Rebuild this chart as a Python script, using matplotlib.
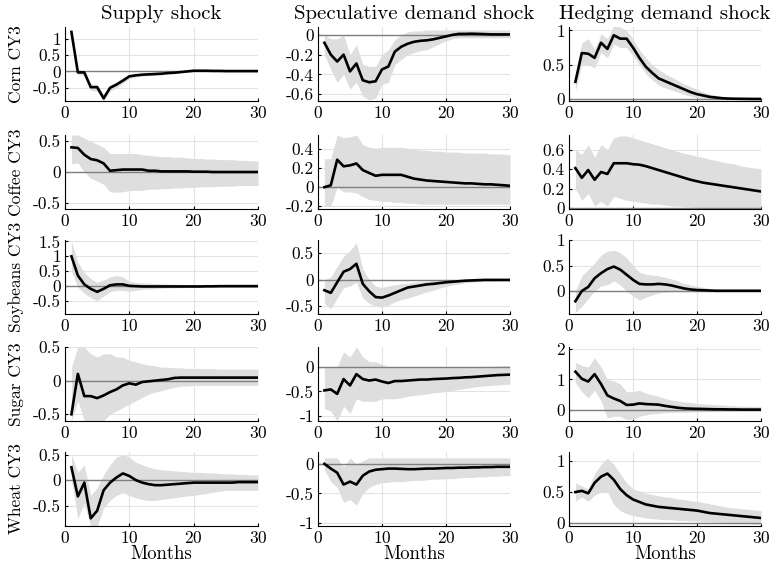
import matplotlib
matplotlib.use("Agg")
import matplotlib.pyplot as plt
from matplotlib.ticker import FuncFormatter

plt.rcParams['font.family'] = ['cmr10', 'DejaVu Serif']
plt.rcParams['axes.unicode_minus'] = False
plt.rcParams['axes.formatter.use_mathtext'] = True

months = list(range(1, 31))
shocks = ["Supply shock", "Speculative demand shock", "Hedging demand shock"]
commodities = ["Corn CY3", "Coffee CY3", "Soybeans CY3", "Sugar CY3", "Wheat CY3"]
xticks = [0, 10, 20, 30]

# ---- Corn ----
corn_sup = [1.2, -0.03, -0.03, -0.48, -0.48, -0.82, -0.5, -0.4, -0.28, -0.15, -0.12, -0.1, -0.09, -0.08, -0.07, -0.05, -0.04, -0.02, 0.0, 0.02, 0.02, 0.02, 0.015, 0.015, 0.01, 0.01, 0.01, 0.01, 0.01, 0.01]
corn_sup_hi = [1.25, 0.05, 0.03, -0.38, -0.38, -0.7, -0.42, -0.32, -0.2, -0.1, -0.08, -0.06, -0.05, -0.04, -0.03, -0.02, -0.01, 0.0, 0.02, 0.03, 0.03, 0.03, 0.02, 0.02, 0.02, 0.015, 0.015, 0.015, 0.015, 0.015]
corn_sup_lo = [1.15, -0.1, -0.12, -0.58, -0.6, -0.9, -0.6, -0.5, -0.36, -0.22, -0.17, -0.14, -0.13, -0.12, -0.1, -0.08, -0.06, -0.04, -0.02, 0.0, 0.01, 0.01, 0.01, 0.005, 0.005, 0.005, 0.005, 0.005, 0.005, 0.005]

corn_spe = [-0.08, -0.2, -0.27, -0.2, -0.37, -0.29, -0.46, -0.48, -0.47, -0.35, -0.32, -0.17, -0.12, -0.09, -0.07, -0.06, -0.055, -0.045, -0.03, -0.015, 0.0, 0.01, 0.01, 0.012, 0.01, 0.008, 0.005, 0.005, 0.005, 0.005]
corn_spe_hi = [0.0, -0.04, -0.04, 0.0, -0.2, -0.1, -0.3, -0.32, -0.32, -0.2, -0.15, -0.05, 0.0, 0.03, 0.04, 0.04, 0.05, 0.05, 0.05, 0.05, 0.05, 0.05, 0.05, 0.05, 0.05, 0.05, 0.05, 0.05, 0.05, 0.05]
corn_spe_lo = [-0.2, -0.35, -0.48, -0.4, -0.55, -0.48, -0.62, -0.66, -0.64, -0.5, -0.48, -0.3, -0.25, -0.2, -0.18, -0.16, -0.15, -0.12, -0.09, -0.06, -0.04, -0.03, -0.03, -0.03, -0.03, -0.03, -0.03, -0.03, -0.03, -0.03]

corn_hed = [0.25, 0.67, 0.66, 0.6, 0.82, 0.73, 0.93, 0.88, 0.88, 0.75, 0.6, 0.47, 0.38, 0.3, 0.26, 0.22, 0.18, 0.14, 0.1, 0.07, 0.05, 0.03, 0.02, 0.01, 0.005, 0.003, 0.002, 0.001, 0.0, 0.0]
corn_hed_hi = [0.35, 0.82, 0.88, 0.72, 0.95, 0.88, 1.07, 1.05, 1.0, 0.87, 0.72, 0.6, 0.5, 0.43, 0.37, 0.32, 0.27, 0.22, 0.18, 0.14, 0.1, 0.07, 0.05, 0.03, 0.02, 0.015, 0.01, 0.008, 0.005, 0.005]
corn_hed_lo = [0.12, 0.5, 0.5, 0.45, 0.68, 0.6, 0.8, 0.75, 0.75, 0.63, 0.5, 0.37, 0.28, 0.2, 0.16, 0.13, 0.1, 0.07, 0.04, 0.02, 0.01, 0.0, -0.005, -0.005, -0.005, -0.005, -0.005, -0.005, -0.005, -0.005]

# ---- Coffee ----
coff_sup = [0.4, 0.39, 0.28, 0.21, 0.19, 0.14, 0.02, 0.03, 0.04, 0.04, 0.04, 0.04, 0.02, 0.02, 0.01, 0.01, 0.01, 0.01, 0.01, 0.005, 0.005, 0.005, 0.0, 0.0, 0.0, 0.0, 0.0, 0.0, 0.0, 0.0]
coff_sup_hi = [0.6, 0.6, 0.55, 0.5, 0.45, 0.4, 0.3, 0.3, 0.3, 0.3, 0.3, 0.28, 0.27, 0.26, 0.25, 0.25, 0.24, 0.24, 0.23, 0.22, 0.22, 0.21, 0.21, 0.2, 0.2, 0.2, 0.19, 0.19, 0.18, 0.18]
coff_sup_lo = [0.13, 0.15, 0.0, -0.1, -0.15, -0.2, -0.32, -0.33, -0.32, -0.3, -0.3, -0.3, -0.28, -0.28, -0.27, -0.27, -0.26, -0.26, -0.25, -0.25, -0.24, -0.24, -0.24, -0.23, -0.23, -0.23, -0.22, -0.22, -0.22, -0.22]

coff_spe = [0.0, 0.02, 0.29, 0.22, 0.23, 0.25, 0.18, 0.15, 0.12, 0.13, 0.13, 0.13, 0.13, 0.11, 0.09, 0.08, 0.07, 0.065, 0.06, 0.055, 0.05, 0.045, 0.04, 0.04, 0.035, 0.03, 0.03, 0.025, 0.02, 0.015]
coff_spe_hi = [0.3, 0.3, 0.55, 0.52, 0.53, 0.55, 0.45, 0.42, 0.41, 0.42, 0.42, 0.42, 0.42, 0.41, 0.4, 0.39, 0.39, 0.38, 0.38, 0.37, 0.37, 0.37, 0.36, 0.36, 0.36, 0.36, 0.35, 0.35, 0.35, 0.34]
coff_spe_lo = [-0.2, -0.2, 0.0, -0.05, -0.05, -0.06, -0.1, -0.13, -0.14, -0.15, -0.15, -0.16, -0.16, -0.17, -0.17, -0.18, -0.18, -0.18, -0.18, -0.18, -0.18, -0.18, -0.18, -0.18, -0.18, -0.18, -0.18, -0.18, -0.18, -0.18]

coff_hed = [0.41, 0.31, 0.39, 0.29, 0.37, 0.35, 0.46, 0.46, 0.46, 0.45, 0.445, 0.43, 0.41, 0.39, 0.37, 0.35, 0.33, 0.31, 0.29, 0.275, 0.26, 0.25, 0.24, 0.23, 0.22, 0.21, 0.2, 0.19, 0.18, 0.17]
coff_hed_hi = [0.6, 0.55, 0.65, 0.52, 0.65, 0.6, 0.72, 0.74, 0.74, 0.72, 0.7, 0.68, 0.66, 0.64, 0.62, 0.6, 0.58, 0.56, 0.55, 0.53, 0.52, 0.5, 0.49, 0.47, 0.46, 0.45, 0.43, 0.42, 0.41, 0.4]
coff_hed_lo = [0.2, 0.08, 0.15, 0.02, 0.07, 0.02, 0.12, 0.1, 0.08, 0.07, 0.06, 0.05, 0.04, 0.04, 0.03, 0.02, 0.02, 0.01, 0.01, 0.0, 0.0, 0.0, 0.0, 0.0, 0.0, 0.0, 0.0, 0.0, 0.0, 0.0]

# ---- Soybeans ----
soy_sup = [1.0, 0.35, 0.05, -0.1, -0.2, -0.1, 0.02, 0.05, 0.05, 0.0, -0.01, -0.02, -0.02, -0.02, -0.02, -0.02, -0.02, -0.02, -0.02, -0.02, -0.02, -0.015, -0.015, -0.01, -0.01, -0.01, -0.01, -0.01, -0.01, -0.01]
soy_sup_hi = [1.5, 0.8, 0.45, 0.25, 0.12, 0.2, 0.3, 0.35, 0.3, 0.15, 0.12, 0.1, 0.09, 0.08, 0.07, 0.06, 0.06, 0.05, 0.05, 0.04, 0.04, 0.03, 0.03, 0.03, 0.02, 0.02, 0.02, 0.01, 0.01, 0.01]
soy_sup_lo = [0.5, -0.05, -0.25, -0.4, -0.5, -0.35, -0.2, -0.15, -0.15, -0.18, -0.15, -0.12, -0.11, -0.1, -0.08, -0.07, -0.07, -0.06, -0.06, -0.05, -0.05, -0.04, -0.04, -0.04, -0.03, -0.03, -0.03, -0.02, -0.02, -0.02]

soy_spe = [-0.2, -0.25, -0.05, 0.15, 0.2, 0.3, -0.08, -0.22, -0.33, -0.34, -0.3, -0.25, -0.2, -0.15, -0.13, -0.11, -0.09, -0.08, -0.065, -0.05, -0.04, -0.03, -0.02, -0.015, -0.01, -0.005, -0.005, -0.005, -0.005, -0.005]
soy_spe_hi = [0.0, 0.05, 0.25, 0.45, 0.55, 0.7, 0.2, 0.0, -0.12, -0.15, -0.12, -0.1, -0.08, -0.07, -0.05, -0.04, -0.03, -0.02, -0.015, -0.01, -0.005, 0.0, 0.0, 0.0, 0.005, 0.005, 0.01, 0.01, 0.01, 0.01]
soy_spe_lo = [-0.45, -0.55, -0.35, -0.15, -0.12, -0.05, -0.35, -0.45, -0.5, -0.52, -0.48, -0.42, -0.38, -0.35, -0.31, -0.27, -0.23, -0.2, -0.16, -0.13, -0.1, -0.08, -0.06, -0.05, -0.04, -0.03, -0.03, -0.02, -0.02, -0.02]

soy_hed = [-0.2, 0.0, 0.08, 0.25, 0.35, 0.43, 0.48, 0.42, 0.32, 0.22, 0.14, 0.13, 0.13, 0.14, 0.13, 0.11, 0.08, 0.05, 0.03, 0.02, 0.015, 0.01, 0.005, 0.005, 0.005, 0.005, 0.005, 0.005, 0.005, 0.005]
soy_hed_hi = [0.0, 0.3, 0.42, 0.55, 0.7, 0.78, 0.8, 0.75, 0.65, 0.5, 0.37, 0.33, 0.31, 0.3, 0.27, 0.24, 0.2, 0.15, 0.12, 0.09, 0.07, 0.05, 0.04, 0.03, 0.02, 0.02, 0.015, 0.01, 0.01, 0.01]
soy_hed_lo = [-0.42, -0.3, -0.15, 0.0, 0.1, 0.12, 0.2, 0.12, 0.0, -0.1, -0.18, -0.12, -0.08, -0.04, -0.02, -0.01, -0.01, -0.01, -0.01, -0.01, -0.01, -0.01, -0.005, -0.005, -0.005, 0.0, 0.0, 0.0, 0.0, 0.0]

# ---- Sugar ----
sug_sup = [-0.5, 0.1, -0.23, -0.23, -0.26, -0.22, -0.17, -0.13, -0.07, -0.04, -0.06, -0.02, -0.01, 0.0, 0.01, 0.02, 0.04, 0.045, 0.045, 0.045, 0.045, 0.045, 0.045, 0.045, 0.045, 0.045, 0.045, 0.045, 0.045, 0.045]
sug_sup_hi = [0.2, 0.5, 0.5, 0.4, 0.35, 0.4, 0.4, 0.35, 0.35, 0.3, 0.28, 0.25, 0.23, 0.22, 0.2, 0.2, 0.19, 0.19, 0.18, 0.18, 0.18, 0.18, 0.18, 0.17, 0.17, 0.17, 0.17, 0.17, 0.17, 0.17]
sug_sup_lo = [-0.6, -0.3, -0.6, -0.6, -0.6, -0.6, -0.5, -0.45, -0.4, -0.35, -0.3, -0.25, -0.2, -0.17, -0.15, -0.12, -0.1, -0.08, -0.08, -0.07, -0.07, -0.07, -0.07, -0.07, -0.07, -0.07, -0.07, -0.07, -0.07, -0.07]

sug_spe = [-0.48, -0.46, -0.55, -0.25, -0.38, -0.15, -0.25, -0.28, -0.26, -0.3, -0.33, -0.29, -0.29, -0.28, -0.27, -0.26, -0.26, -0.25, -0.245, -0.24, -0.23, -0.225, -0.215, -0.21, -0.2, -0.19, -0.18, -0.17, -0.165, -0.16]
sug_spe_hi = [0.0, 0.0, 0.0, 0.3, 0.2, 0.4, 0.2, 0.1, 0.1, 0.05, 0.0, 0.0, 0.0, 0.0, 0.0, 0.0, 0.0, 0.0, 0.0, 0.0, 0.0, 0.0, 0.0, 0.0, 0.0, 0.01, 0.01, 0.01, 0.02, 0.02]
sug_spe_lo = [-0.85, -0.9, -1.1, -0.8, -0.95, -0.65, -0.7, -0.7, -0.7, -0.65, -0.65, -0.65, -0.63, -0.6, -0.58, -0.57, -0.55, -0.53, -0.52, -0.5, -0.48, -0.46, -0.44, -0.42, -0.4, -0.39, -0.38, -0.37, -0.36, -0.35]

sug_hed = [1.25, 1.02, 0.93, 1.17, 0.85, 0.48, 0.38, 0.3, 0.17, 0.18, 0.22, 0.2, 0.19, 0.18, 0.14, 0.11, 0.08, 0.06, 0.05, 0.045, 0.04, 0.035, 0.03, 0.03, 0.025, 0.025, 0.02, 0.02, 0.02, 0.02]
sug_hed_hi = [1.55, 1.45, 1.4, 1.7, 1.4, 1.0, 0.95, 0.85, 0.6, 0.6, 0.65, 0.55, 0.5, 0.45, 0.38, 0.33, 0.3, 0.27, 0.25, 0.22, 0.2, 0.19, 0.18, 0.17, 0.15, 0.14, 0.13, 0.13, 0.12, 0.12]
sug_hed_lo = [0.9, 0.6, 0.4, 0.65, 0.3, -0.25, -0.2, -0.2, -0.3, -0.3, -0.2, -0.15, -0.12, -0.1, -0.08, -0.07, -0.07, -0.06, -0.06, -0.05, -0.05, -0.05, -0.04, -0.04, -0.04, -0.04, -0.03, -0.03, -0.03, -0.03]

# ---- Wheat ----
wht_sup = [0.25, -0.32, -0.05, -0.75, -0.6, -0.2, -0.05, 0.05, 0.13, 0.08, 0.0, -0.05, -0.08, -0.1, -0.1, -0.09, -0.08, -0.07, -0.06, -0.05, -0.05, -0.05, -0.05, -0.05, -0.05, -0.05, -0.04, -0.04, -0.04, -0.04]
wht_sup_hi = [0.5, 0.15, 0.3, -0.3, -0.15, 0.1, 0.3, 0.45, 0.5, 0.45, 0.35, 0.3, 0.25, 0.22, 0.2, 0.19, 0.18, 0.17, 0.16, 0.15, 0.15, 0.14, 0.14, 0.13, 0.12, 0.12, 0.11, 0.11, 0.1, 0.1]
wht_sup_lo = [0.0, -0.75, -0.45, -0.9, -0.9, -0.55, -0.4, -0.3, -0.25, -0.3, -0.35, -0.38, -0.4, -0.4, -0.38, -0.36, -0.35, -0.33, -0.31, -0.3, -0.28, -0.26, -0.24, -0.22, -0.2, -0.2, -0.2, -0.2, -0.2, -0.2]

wht_spe = [0.0, -0.08, -0.15, -0.35, -0.3, -0.35, -0.2, -0.13, -0.1, -0.09, -0.08, -0.08, -0.085, -0.09, -0.09, -0.085, -0.08, -0.08, -0.075, -0.07, -0.07, -0.065, -0.065, -0.06, -0.06, -0.055, -0.055, -0.05, -0.05, -0.05]
wht_spe_hi = [0.1, 0.1, 0.1, -0.05, 0.1, 0.0, 0.05, 0.1, 0.1, 0.1, 0.1, 0.1, 0.1, 0.1, 0.1, 0.1, 0.1, 0.1, 0.1, 0.1, 0.1, 0.1, 0.1, 0.1, 0.1, 0.1, 0.1, 0.1, 0.1, 0.1]
wht_spe_lo = [-0.1, -0.3, -0.4, -0.65, -0.6, -0.7, -0.5, -0.4, -0.35, -0.32, -0.31, -0.3, -0.3, -0.29, -0.28, -0.28, -0.27, -0.26, -0.26, -0.25, -0.25, -0.24, -0.23, -0.23, -0.22, -0.22, -0.21, -0.21, -0.2, -0.2]

wht_hed = [0.5, 0.52, 0.48, 0.65, 0.75, 0.8, 0.7, 0.55, 0.45, 0.38, 0.34, 0.3, 0.28, 0.26, 0.25, 0.24, 0.23, 0.22, 0.21, 0.2, 0.18, 0.16, 0.15, 0.14, 0.13, 0.12, 0.11, 0.1, 0.09, 0.08]
wht_hed_hi = [0.65, 0.6, 0.55, 0.8, 0.95, 1.05, 0.95, 0.8, 0.65, 0.55, 0.52, 0.48, 0.46, 0.44, 0.42, 0.41, 0.39, 0.38, 0.36, 0.35, 0.33, 0.31, 0.29, 0.27, 0.25, 0.24, 0.23, 0.22, 0.21, 0.2]
wht_hed_lo = [0.35, 0.42, 0.35, 0.45, 0.5, 0.5, 0.3, 0.2, 0.15, 0.12, 0.1, 0.08, 0.07, 0.06, 0.05, 0.05, 0.04, 0.04, 0.03, 0.03, 0.02, 0.02, 0.01, 0.01, 0.0, 0.0, -0.01, -0.01, -0.02, -0.02]

# y axis limits and ticks per panel (rows = commodities, cols = shocks)
ylims = [
    [(-0.9, 1.35), (-0.67, 0.08), (-0.03, 1.05)],
    [(-0.6, 0.6), (-0.23, 0.55), (-0.01, 0.75)],
    [(-0.95, 1.55), (-0.65, 0.75), (-0.45, 1.0)],
    [(-0.6, 0.5), (-1.1, 0.4), (-0.35, 2.05)],
    [(-0.9, 0.55), (-1.05, 0.2), (-0.05, 1.15)],
]
yticks = [
    [[-0.5, 0, 0.5, 1], [-0.6, -0.4, -0.2, 0], [0, 0.5, 1]],
    [[-0.5, 0, 0.5], [-0.2, 0, 0.2, 0.4], [0, 0.2, 0.4, 0.6]],
    [[-0.5, 0, 0.5, 1, 1.5], [-0.5, 0, 0.5], [0, 0.5, 1]],
    [[-0.5, 0, 0.5], [-1, -0.5, 0], [0, 1, 2]],
    [[-0.5, 0, 0.5], [-1, -0.5, 0], [0, 0.5, 1]],
]

panels = [
    [(corn_sup, corn_sup_lo, corn_sup_hi), (corn_spe, corn_spe_lo, corn_spe_hi), (corn_hed, corn_hed_lo, corn_hed_hi)],
    [(coff_sup, coff_sup_lo, coff_sup_hi), (coff_spe, coff_spe_lo, coff_spe_hi), (coff_hed, coff_hed_lo, coff_hed_hi)],
    [(soy_sup, soy_sup_lo, soy_sup_hi), (soy_spe, soy_spe_lo, soy_spe_hi), (soy_hed, soy_hed_lo, soy_hed_hi)],
    [(sug_sup, sug_sup_lo, sug_sup_hi), (sug_spe, sug_spe_lo, sug_spe_hi), (sug_hed, sug_hed_lo, sug_hed_hi)],
    [(wht_sup, wht_sup_lo, wht_sup_hi), (wht_spe, wht_spe_lo, wht_spe_hi), (wht_hed, wht_hed_lo, wht_hed_hi)],
]

fig = plt.figure(figsize=(7.77, 5.62), dpi=100)
W, H = 777.0, 562.0
col_x = [(65, 258), (318, 510), (569, 761)]
row_y = [(27, 101), (135, 209), (240, 314), (347, 421), (452, 526)]

fmt = FuncFormatter(lambda v, p: "{:g}".format(v))

for r in range(5):
    for c in range(3):
        x0, x1 = col_x[c]
        yt, yb = row_y[r]
        ax = fig.add_axes([x0 / W, 1 - yb / H, (x1 - x0) / W, (yb - yt) / H])
        m, lo, hi = panels[r][c]
        ax.fill_between(months, lo, hi, color="#dedede", linewidth=0, zorder=1)
        ax.axhline(0, color="#7f7f7f", lw=1.0, zorder=2)
        ax.plot(months, m, color="black", lw=1.9, zorder=3)
        ax.set_xlim(0, 30)
        ax.set_ylim(*ylims[r][c])
        ax.set_xticks(xticks)
        ax.set_yticks(yticks[r][c])
        ax.yaxis.set_major_formatter(fmt)
        ax.grid(True, color="#e3e3e3", lw=0.8, zorder=0)
        ax.set_axisbelow(True)
        for s in ["top", "right"]:
            ax.spines[s].set_visible(False)
        for s in ["left", "bottom"]:
            ax.spines[s].set_color("black")
            ax.spines[s].set_linewidth(0.8)
        ax.tick_params(axis="both", labelsize=12.5, length=2, direction="in", pad=3)
        if r == 0:
            ax.set_title(shocks[c], fontsize=15, pad=6)
        if c == 0:
            ax.set_ylabel(commodities[r], fontsize=12.5)
            ax.yaxis.set_label_coords((24 - x0) / (x1 - x0), 0.5)
        if r == 4:
            ax.set_xlabel("Months", fontsize=13.5, labelpad=-1)

fig.savefig("out.png", dpi=100)
